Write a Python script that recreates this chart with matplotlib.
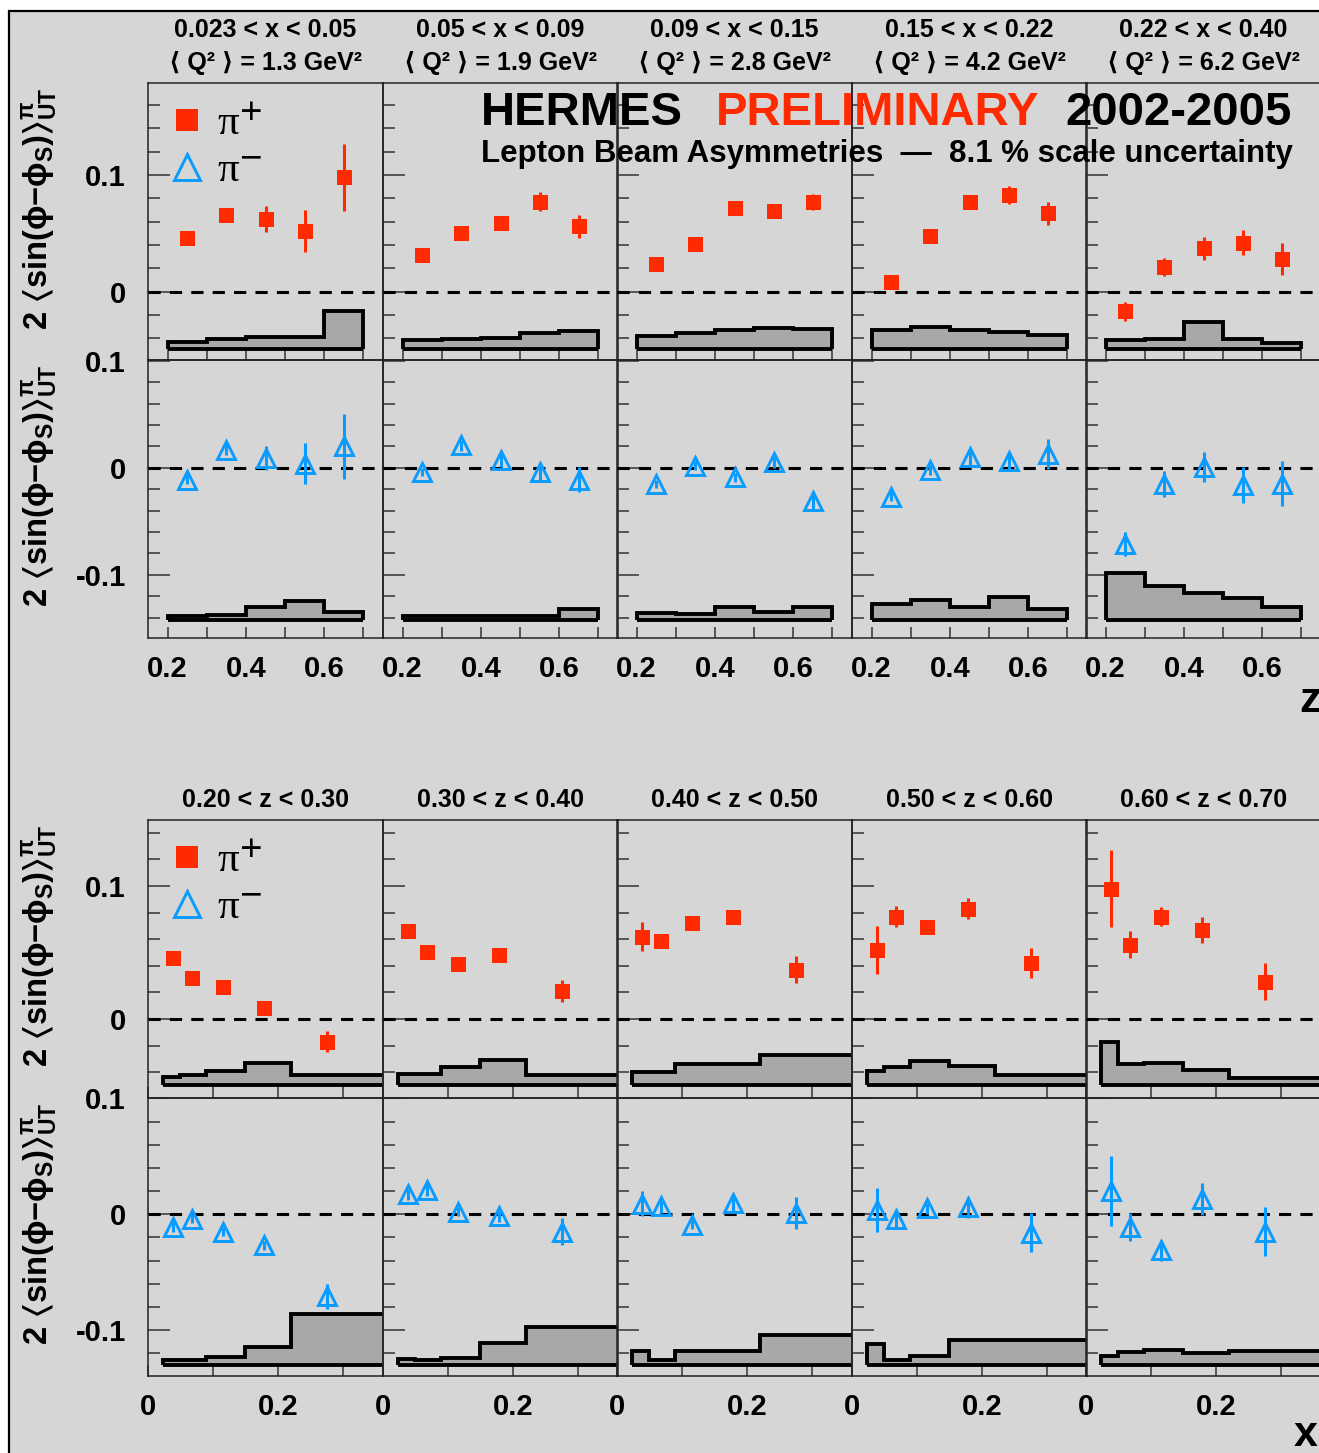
import numpy as np
import matplotlib
matplotlib.use('Agg')
import matplotlib.pyplot as plt
from matplotlib.patches import Rectangle
from matplotlib.ticker import MultipleLocator, FuncFormatter
from matplotlib.font_manager import FontProperties

# binning
x_edges = [0.023, 0.05, 0.09, 0.15, 0.22, 0.40]
z_edges = [0.2, 0.3, 0.4, 0.5, 0.6, 0.7]
x_mean = [0.038, 0.068, 0.115, 0.178, 0.276]
z_mean = [0.25, 0.35, 0.45, 0.55, 0.65]

x_titles = ['0.023 < x < 0.05', '0.05 < x < 0.09', '0.09 < x < 0.15',
            '0.15 < x < 0.22', '0.22 < x < 0.40']
q2_mean = ['1.3', '1.9', '2.8', '4.2', '6.2']
z_titles = ['0.20 < z < 0.30', '0.30 < z < 0.40', '0.40 < z < 0.50',
            '0.50 < z < 0.60', '0.60 < z < 0.70']

# asymmetries, rows = x bins, columns = z bins
pip_val = [[0.046, 0.066, 0.062, 0.052, 0.098],
           [0.031, 0.050, 0.059, 0.077, 0.056],
           [0.024, 0.041, 0.072, 0.069, 0.077],
           [0.008, 0.048, 0.077, 0.083, 0.067],
           [-0.017, 0.021, 0.037, 0.042, 0.028]]
pip_err = [[0.004, 0.004, 0.011, 0.018, 0.029],
           [0.004, 0.004, 0.005, 0.008, 0.010],
           [0.004, 0.004, 0.004, 0.005, 0.007],
           [0.004, 0.004, 0.005, 0.008, 0.010],
           [0.008, 0.008, 0.010, 0.011, 0.014]]
pip_sys = [[0.006, 0.0085, 0.0098, 0.0102, 0.032],
           [0.0072, 0.008, 0.0094, 0.0137, 0.0154],
           [0.0105, 0.0137, 0.0158, 0.0178, 0.0165],
           [0.0162, 0.0188, 0.016, 0.0145, 0.0113],
           [0.0072, 0.0078, 0.0224, 0.0078, 0.0052]]

pim_val = [[-0.011, 0.017, 0.009, 0.004, 0.020],
           [-0.004, 0.021, 0.007, -0.004, -0.011],
           [-0.015, 0.002, -0.009, 0.005, -0.031],
           [-0.027, -0.002, 0.010, 0.006, 0.013],
           [-0.071, -0.015, 0.001, -0.016, -0.015]]
pim_err = [[0.004, 0.005, 0.011, 0.019, 0.030],
           [0.004, 0.005, 0.006, 0.007, 0.012],
           [0.004, 0.004, 0.004, 0.005, 0.009],
           [0.004, 0.005, 0.007, 0.009, 0.014],
           [0.011, 0.012, 0.014, 0.017, 0.021]]
pim_sys = [[0.0045, 0.0047, 0.012, 0.018, 0.0075],
           [0.0045, 0.0037, 0.0042, 0.0042, 0.011],
           [0.007, 0.006, 0.0121, 0.0078, 0.0125],
           [0.0154, 0.0187, 0.012, 0.0215, 0.0105],
           [0.044, 0.0325, 0.0257, 0.0212, 0.012]]

RED = '#ff2a00'
BLUE = '#0a9bff'
BG = '#d6d6d6'
HIST = '#a8a8a8'
W, H = 1319, 1453

plt.rcParams['font.family'] = ['Liberation Sans', 'DejaVu Sans']
plt.rcParams['font.weight'] = 'bold'
plt.rcParams['axes.unicode_minus'] = False
plt.rcParams['mathtext.fontset'] = 'custom'
plt.rcParams['mathtext.rm'] = 'Liberation Sans:bold'
plt.rcParams['mathtext.it'] = 'Liberation Sans:bold'
plt.rcParams['mathtext.bf'] = 'Liberation Sans:bold'
plt.rcParams['mathtext.fallback'] = 'stixsans'

fig = plt.figure(figsize=(W / 100, H / 100), dpi=100, facecolor='white')
fig.add_artist(Rectangle((9 / W, -0.02), 1.0, 1 - 11 / H + 0.02, transform=fig.transFigure,
                         facecolor=BG, edgecolor='black', lw=1.6, zorder=-10))

cols_px = [148, 383, 617, 852, 1086]
col_w = 235
fmt = FuncFormatter(lambda v, p: f"{round(v, 3) + 0:g}")


def add_ax(cx, y0, y1):
    ax = fig.add_axes([cx / W, 1 - y1 / H, col_w / W, (y1 - y0) / H])
    ax.set_facecolor('none')
    for s in ax.spines.values():
        s.set_linewidth(1.1)
        s.set_color('#222222')
    ax.yaxis.set_major_locator(MultipleLocator(0.1))
    ax.yaxis.set_minor_locator(MultipleLocator(0.02))
    ax.xaxis.set_major_locator(MultipleLocator(0.2))
    ax.xaxis.set_minor_locator(MultipleLocator(0.1))
    ax.xaxis.set_major_formatter(fmt)
    ax.yaxis.set_major_formatter(fmt)
    ax.tick_params(which='both', direction='in', top=False, right=False,
                   width=1.1, color='#333333', labelsize=21)
    ax.tick_params(axis='y', which='major', length=16, pad=16)
    ax.tick_params(axis='y', which='minor', length=8.5)
    ax.tick_params(axis='x', which='both', length=8, pad=12)
    ax.axhline(0, color='black', lw=2.2, ls=(0, (4, 3)), zorder=3)
    return ax


def draw(ax, xs, vals, errs, sys, edges, base, plus):
    ax.stairs(np.add(base, sys), edges, baseline=base, fill=True,
              facecolor=HIST, edgecolor='black', lw=2.8, zorder=2)
    ax.hlines(base, edges[0], edges[-1], color='black', lw=2.8, zorder=2)
    if plus:
        c = ax.errorbar(xs, vals, yerr=errs, fmt='s', color=RED, ms=10.8, mew=0,
                        elinewidth=2.2, capsize=0, zorder=5)
    else:
        c = ax.errorbar(xs, vals, yerr=errs, fmt='^', mfc='none', mec=BLUE, ecolor=BLUE,
                        ms=12.5, mew=2.1, elinewidth=2.2, capsize=0, zorder=5)
    return c


vp = np.array(pip_val); ep = np.array(pip_err); sp = np.array(pip_sys)
vm = np.array(pim_val); em = np.array(pim_err); sm = np.array(pim_sys)

blocks = [
    # (rows px, ylims, baselines, x means, edges, xlim, transpose)
    ((83, 360), (360, 638), (-0.0588, 0.179), (-0.159, 0.1007), -0.049, -0.1425,
     z_mean, z_edges, (0.15, 0.75), False),
    ((820, 1098), (1098, 1376), (-0.0594, 0.1496), (-0.1397, 0.1003), -0.0496, -0.130,
     x_mean, x_edges, (0.0, 0.362), True),
]

leg_axes = []
for (rp, rm, ylp, ylm, bp, bm, xs, edges, xl, tr) in blocks:
    for k, cx in enumerate(cols_px):
        axp = add_ax(cx, *rp)
        axm = add_ax(cx, *rm)
        if tr:
            a, b, c_ = vp[:, k], ep[:, k], sp[:, k]
            d, e, f = vm[:, k], em[:, k], sm[:, k]
        else:
            a, b, c_ = vp[k], ep[k], sp[k]
            d, e, f = vm[k], em[k], sm[k]
        cp = draw(axp, xs, a, b, c_, edges, bp, True)
        cm = draw(axm, xs, d, e, f, edges, bm, False)
        for ax, yl in ((axp, ylp), (axm, ylm)):
            ax.set_xlim(*xl)
            ax.set_ylim(*yl)
            if k > 0:
                ax.tick_params(axis='y', labelleft=False)
        axp.tick_params(axis='x', labelbottom=False)
        if k == 0:
            leg_axes.append((axp, cp[0], cm[0]))

legprop = FontProperties(family='Liberation Serif', weight='normal', size=31,
                         math_fontfamily='stix')
for ax, hp, hm in leg_axes:
    ax.legend([hp, hm], [r'\u03c0$^{\mathbf{+}}$'.replace(r'\u03c0', '\u03c0'),
                         r'\u03c0$^{\mathbf{-}}$'.replace(r'\u03c0', '\u03c0')],
              loc='upper left', frameon=False, prop=legprop, numpoints=1,
              markerscale=1.45, handlelength=0.8, handletextpad=0.3,
              labelspacing=0.2, borderaxespad=0.2, borderpad=0.3)

# titles
for k, cx in enumerate(cols_px):
    xc = (cx + col_w / 2) / W
    fig.text(xc, 1 - 37 / H, x_titles[k], ha='center', va='baseline', fontsize=18)
    fig.text(xc, 1 - 70 / H, '\u27e8 Q\u00b2 \u27e9 = %s GeV\u00b2' % q2_mean[k],
             ha='center', va='baseline', fontsize=18)
    fig.text(xc, 1 - 807 / H, z_titles[k], ha='center', va='baseline', fontsize=18)

ylab = r'$2\ \langle\mathrm{sin}(\phi\mathrm{-}\phi_{\mathrm{S}})\rangle^{\pi}_{\mathrm{UT}}$'
for top in (83, 360, 820, 1098):
    fig.text(40 / W, 1 - (top + 5) / H, ylab, rotation=90, ha='center', va='top',
             fontsize=23.5)

fig.text(481 / W, 1 - 125 / H, 'HERMES', fontsize=34, ha='left', va='baseline')
fig.text(716 / W, 1 - 125 / H, 'PRELIMINARY', fontsize=34, ha='left', va='baseline',
         color=RED)
fig.text(1292 / W, 1 - 125 / H, '2002-2005', fontsize=34, ha='right', va='baseline')
fig.text(481 / W, 1 - 162 / H, 'Lepton Beam Asymmetries  \u2014  8.1 % scale uncertainty',
         fontsize=22.5, ha='left', va='baseline')

fig.text(1299 / W, 1 - 712 / H, 'z', fontsize=31, ha='left', va='baseline')
fig.text(1294 / W, 1 - 1446 / H, 'x', fontsize=31, ha='left', va='baseline')

fig.savefig('out.png', dpi=100, facecolor='white')
